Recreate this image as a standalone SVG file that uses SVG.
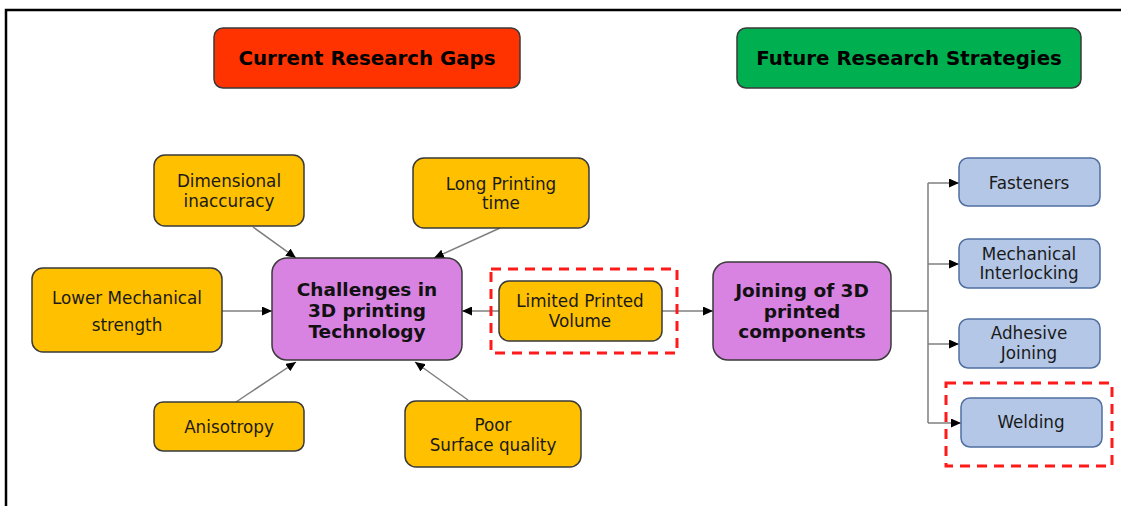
<svg xmlns="http://www.w3.org/2000/svg" width="1121" height="506" viewBox="0 0 1121 506">
  <style>
    text { font-family: "DejaVu Sans", Verdana, sans-serif; fill: #1a1a1a; text-anchor: middle; }
    .t { font-size: 16.8px; }
    .b { font-size: 18.5px; font-weight: bold; fill: #111; }
    .h { font-size: 19.8px; font-weight: bold; fill: #000; }
    .y { fill: #FFC000; stroke: #3a3a3a; stroke-width: 1.5; }
    .p { fill: #D882E2; stroke: #3a3a3a; stroke-width: 1.5; }
    .u { fill: #B4C7E7; stroke: #4F6FA0; stroke-width: 1.5; }
    .c { stroke: #7f7f7f; stroke-width: 1.5; fill: none; }
    .d { fill: none; stroke: #FF1A1A; stroke-width: 3; stroke-dasharray: 10 7; }
  </style>
  <defs>
    <marker id="ah" markerUnits="userSpaceOnUse" markerWidth="10" markerHeight="9" refX="10" refY="4.5" orient="auto">
      <path d="M0,0 L10,4.5 L0,9 z" fill="#000"/>
    </marker>
  </defs>
  <rect width="1121" height="506" fill="#fff"/>
  <path d="M6,506 V10 H1121" fill="none" stroke="#000" stroke-width="2.5"/>

  <g id="current-research-gaps">
    <rect x="214" y="28" width="306" height="60" rx="9" fill="#FF3300" stroke="#3a3a3a" stroke-width="1.5"/>
    <text class="h" x="367" y="65">Current Research Gaps</text>
  </g>
  <g id="future-research-strategies">
    <rect x="737" y="28" width="344" height="60" rx="9" fill="#00B050" stroke="#3a3a3a" stroke-width="1.5"/>
    <text class="h" x="909" y="65">Future Research Strategies</text>
  </g>

  <g id="connectors">
    <line class="c" x1="253" y1="227" x2="296" y2="258" marker-end="url(#ah)"/>
    <line class="c" x1="500" y1="228" x2="434" y2="258" marker-end="url(#ah)"/>
    <line class="c" x1="222" y1="311" x2="272" y2="311" marker-end="url(#ah)"/>
    <line class="c" x1="236" y1="402" x2="296" y2="362" marker-end="url(#ah)"/>
    <line class="c" x1="468" y1="400" x2="415" y2="362" marker-end="url(#ah)"/>
    <line class="c" x1="499" y1="311" x2="462" y2="311" marker-end="url(#ah)"/>
    <line class="c" x1="662" y1="311" x2="713" y2="311" marker-end="url(#ah)"/>
    <path class="c" d="M891,311 H928 M928,183 V423"/>
    <line class="c" x1="928" y1="183" x2="959" y2="183" marker-end="url(#ah)"/>
    <line class="c" x1="928" y1="264" x2="959" y2="264" marker-end="url(#ah)"/>
    <line class="c" x1="928" y1="344" x2="959" y2="344" marker-end="url(#ah)"/>
    <line class="c" x1="928" y1="423" x2="961" y2="423" marker-end="url(#ah)"/>
  </g>

  <g id="dimensional-inaccuracy">
    <rect class="y" x="154" y="155" width="150" height="71" rx="11"/>
    <text class="t" x="229" y="187">Dimensional</text>
    <text class="t" x="229" y="207">inaccuracy</text>
  </g>
  <g id="long-printing-time">
    <rect class="y" x="413" y="158" width="176" height="70" rx="11"/>
    <text class="t" x="501" y="190">Long Printing</text>
    <text class="t" x="501" y="209">time</text>
  </g>
  <g id="lower-mechanical-strength">
    <rect class="y" x="32" y="268" width="190" height="84" rx="11"/>
    <text class="t" x="127" y="304">Lower Mechanical</text>
    <text class="t" x="127" y="331">strength</text>
  </g>
  <g id="challenges">
    <rect class="p" x="272" y="258" width="190" height="102" rx="15"/>
    <text class="b" x="367" y="296">Challenges in</text>
    <text class="b" x="367" y="317">3D printing</text>
    <text class="b" x="367" y="338">Technology</text>
  </g>
  <g id="anisotropy">
    <rect class="y" x="154" y="402" width="150" height="49" rx="9"/>
    <text class="t" x="229" y="433">Anisotropy</text>
  </g>
  <g id="poor-surface-quality">
    <rect class="y" x="405" y="401" width="176" height="66" rx="11"/>
    <text class="t" x="493" y="431">Poor</text>
    <text class="t" x="493" y="451">Surface quality</text>
  </g>
  <g id="limited-printed-volume">
    <rect class="d" x="491" y="269" width="186" height="84"/>
    <rect class="y" x="499" y="281" width="163" height="60" rx="10"/>
    <text class="t" x="580" y="307">Limited Printed</text>
    <text class="t" x="580" y="327">Volume</text>
  </g>
  <g id="joining">
    <rect class="p" x="713" y="262" width="178" height="98" rx="15"/>
    <text class="b" x="802" y="297">Joining of 3D</text>
    <text class="b" x="802" y="318">printed</text>
    <text class="b" x="802" y="338">components</text>
  </g>
  <g id="fasteners">
    <rect class="u" x="959" y="158" width="141" height="48" rx="9"/>
    <text class="t" x="1029" y="189">Fasteners</text>
  </g>
  <g id="mechanical-interlocking">
    <rect class="u" x="959" y="239" width="141" height="49" rx="9"/>
    <text class="t" x="1029" y="260">Mechanical</text>
    <text class="t" x="1029" y="279">Interlocking</text>
  </g>
  <g id="adhesive-joining">
    <rect class="u" x="959" y="319" width="141" height="49" rx="9"/>
    <text class="t" x="1029" y="339">Adhesive</text>
    <text class="t" x="1029" y="359">Joining</text>
  </g>
  <g id="welding">
    <rect class="d" x="946" y="383" width="166" height="83"/>
    <rect class="u" x="961" y="398" width="141" height="49" rx="9"/>
    <text class="t" x="1031" y="428">Welding</text>
  </g>
</svg>
